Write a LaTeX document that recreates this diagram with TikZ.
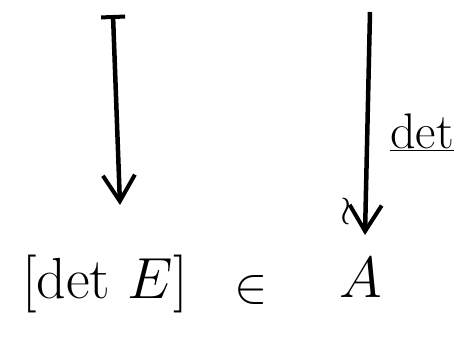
\documentclass[tikz,border=0pt]{standalone}
\usepackage{fix-cm}
\usetikzlibrary{arrows.meta}
\begin{document}
\begin{tikzpicture}[x=1pt,y=-1pt,
  tipsty/.style={-{Straight Barb[length=26pt,width=32pt,line width=4pt]}},
  mapar/.style={line width=4.5pt,tipsty},
  bigtxt/.style={inner sep=0pt,font=\fontsize{58}{64}\selectfont},
  lbl/.style={inner sep=0pt,font=\fontsize{50}{56}\selectfont}]
\useasboundingbox (0,0) rectangle (466,339);
\coordinate (s1) at (113,15);
\coordinate (s2) at (370,12);
\node[bigtxt,anchor=north] (detE) at (105,255) {[$\mathrm{det}\ E$]};
\node[inner sep=0pt,font=\fontsize{50}{54}\selectfont] (in) at (251,290) {$\in$};
\node[bigtxt,anchor=north] (A) at (361,258) {$A$};
\draw[mapar,{Bar[width=24pt,line width=4pt]}-{Straight Barb[length=26pt,width=32pt,line width=4pt]}] (s1) -- ([xshift=15pt,yshift=50pt]detE.north);
\draw[mapar] (s2) -- ([xshift=4pt,yshift=23pt]A.north);
\node[lbl] (det) at (422,132) {$\underline{\mathrm{det}}$};
\node[inner sep=0pt,font=\fontsize{40}{40}\selectfont] (iso) at (346,212) {$\wr$};
\end{tikzpicture}
\end{document}
